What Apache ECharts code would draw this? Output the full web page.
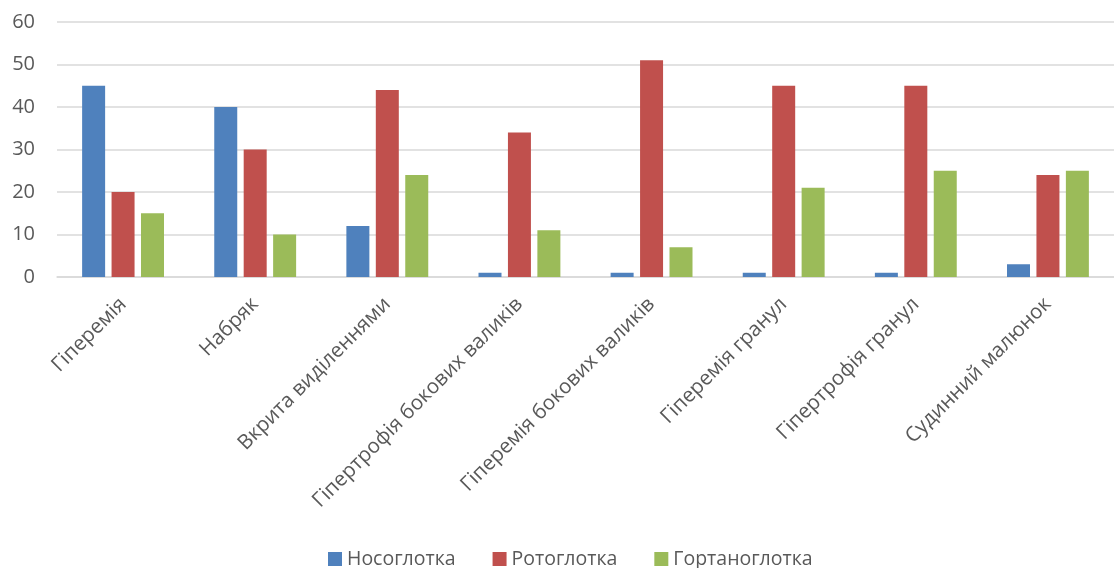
<!DOCTYPE html>
<html>
<head>
<meta charset="utf-8">
<script src="https://cdn.jsdelivr.net/npm/echarts@6/dist/echarts.min.js"></script>
<style>
html,body{margin:0;padding:0;background:#fff;}
#chart{width:1114px;height:568px;}
</style>
</head>
<body>
<div id="chart"></div>
<script>
const categories = ['Гіперемія','Набряк','Вкрита виділеннями','Гіпертрофія бокових валиків','Гіперемія бокових валиків','Гіперемія гранул','Гіпертрофія гранул','Судинний малюнок'];
const nasopharynx = [45, 40, 12, 1, 1, 1, 1, 3];
const oropharynx = [20, 30, 44, 34, 51, 45, 45, 24];
const laryngopharynx = [15, 10, 24, 11, 7, 21, 25, 25];
const seriesNames = ['Носоглотка','Ротоглотка','Гортаноглотка'];
const colors = ['#4F81BD','#C0504D','#9BBB59'];

const font = '"Open Sans", sans-serif';
const chart = echarts.init(document.getElementById('chart'));
chart.setOption({
  animation: false,
  color: colors,
  grid: { left: 57, right: -3, top: 22, bottom: 291 },
  legend: {
    top: 544,
    left: 323,
    icon: 'rect',
    itemWidth: 14,
    itemHeight: 14,
    itemGap: 37,
    textStyle: { fontFamily: font, fontSize: 19.5, color: '#595959' },
    data: seriesNames
  },
  xAxis: {
    type: 'category',
    data: categories,
    axisLine: { lineStyle: { color: '#d9d9d9', width: 1.5 } },
    axisTick: { show: false },
    axisLabel: { interval: 0, rotate: 45, margin: 24, fontFamily: font, fontSize: 20.5, color: '#595959' }
  },
  yAxis: {
    type: 'value',
    min: 0, max: 60, interval: 10,
    axisLine: { show: false },
    axisTick: { show: false },
    axisLabel: { margin: 22, fontFamily: font, fontSize: 20, color: '#595959' },
    splitLine: { lineStyle: { color: '#d9d9d9', width: 1.5 } }
  },
  series: [
    { name: seriesNames[0], type: 'bar', data: nasopharynx, barWidth: 23, barGap: '28%' },
    { name: seriesNames[1], type: 'bar', data: oropharynx, barWidth: 23, barGap: '28%' },
    { name: seriesNames[2], type: 'bar', data: laryngopharynx, barWidth: 23, barGap: '28%' }
  ]
});
</script>
</body>
</html>
